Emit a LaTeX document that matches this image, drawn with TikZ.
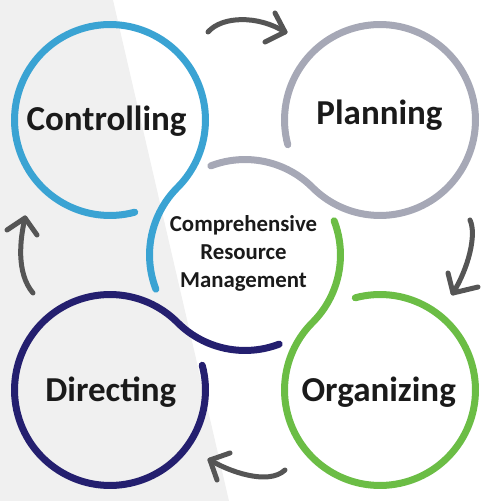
\documentclass[tikz,border=0pt]{standalone}
\usepackage{fontspec}
\setmainfont{Carlito}
\usetikzlibrary{calc}
\definecolor{ctlblue}{HTML}{3AA3D3}
\definecolor{plangrey}{HTML}{A6A8B6}
\definecolor{orggreen}{HTML}{6BBD45}
\definecolor{dirnavy}{HTML}{241F6F}
\definecolor{arrgrey}{HTML}{555555}
\definecolor{bggrey}{HTML}{F0F0F0}
\definecolor{txtdark}{HTML}{1A1A1A}
\begin{document}
\begin{tikzpicture}[x=1pt,y=1pt,
  ringline/.style={line width=7pt, line cap=round},
  cyclearrow/.style={draw=arrgrey, line width=5pt, line cap=round, line join=round},
  stagetext/.style={font=\bfseries\fontsize{35}{35}\selectfont, text=txtdark, anchor=base, inner sep=0pt},
  coretext/.style={font=\bfseries\fontsize{22.8}{22.8}\selectfont, text=txtdark, anchor=base, inner sep=0pt}]
\useasboundingbox (0,0) rectangle (497,501);
\fill[bggrey] (0,0) -- (0,501) -- (113,501) -- (229,0) -- cycle;
\def\R{95.46}
\coordinate (C) at (245,246);
\coordinate (Ctl) at (110,381);
\coordinate (Pl) at (380,381);
\coordinate (Or) at (380,111);
\coordinate (Di) at (110,111);
% rings
\draw[ringline, ctlblue] ($(Ctl)+(-75:\R)$) arc[start angle=-75, end angle=-405, radius=\R]
   arc[start angle=135, end angle=201, radius=\R];
\draw[ringline, plangrey] ($(Pl)+(195:\R)$) arc[start angle=195, end angle=-135, radius=\R]
   arc[start angle=45, end angle=111, radius=\R];
\draw[ringline, orggreen] ($(Or)+(105:\R)$) arc[start angle=105, end angle=-225, radius=\R]
   arc[start angle=-45, end angle=21, radius=\R];
\draw[ringline, dirnavy] ($(Di)+(15:\R)$) arc[start angle=15, end angle=-315, radius=\R]
   arc[start angle=225, end angle=291, radius=\R];
% cycle arrows
\coordinate (a1s) at (208,469); \coordinate (a1t) at (285,469);
\coordinate (a2s) at (470,281); \coordinate (a2t) at (453,208);
\coordinate (a3s) at (285,31);  \coordinate (a3t) at (210,41);
\coordinate (a4s) at (33,208);  \coordinate (a4t) at (25,283);
\draw[cyclearrow] (a1s) .. controls (222,485) and (258,486) .. (a1t);
\draw[cyclearrow] (275,488) -- (a1t) -- (265,459);
\draw[cyclearrow] (a2s) .. controls (477,266) and (468,232) .. (a2t);
\draw[cyclearrow] (448,228) -- (a2t) -- (478,214);
\draw[cyclearrow] (a3s) .. controls (268,15) and (228,30) .. (a3t);
\draw[cyclearrow] (230,48) -- (a3t) -- (217,21);
\draw[cyclearrow] (a4s) .. controls (16,228) and (20,262) .. (a4t);
\draw[cyclearrow] (7,271) -- (a4t) -- (37,266);
% labels
\node[stagetext] (ctl) at (106.5,370) {Controlling};
\node[stagetext] (pln) at (379.5,376) {Planning};
\node[stagetext] (org) at (378.7,99) {Organizing};
\node[stagetext] (dir) at (110.8,99) {Directing};
\node[coretext] (crm1) at (243.5,269) {Comprehensive};
\node[coretext] (crm2) at (243.5,241) {Resource};
\node[coretext] (crm3) at (243.5,213) {Management};
\end{tikzpicture}
\end{document}
